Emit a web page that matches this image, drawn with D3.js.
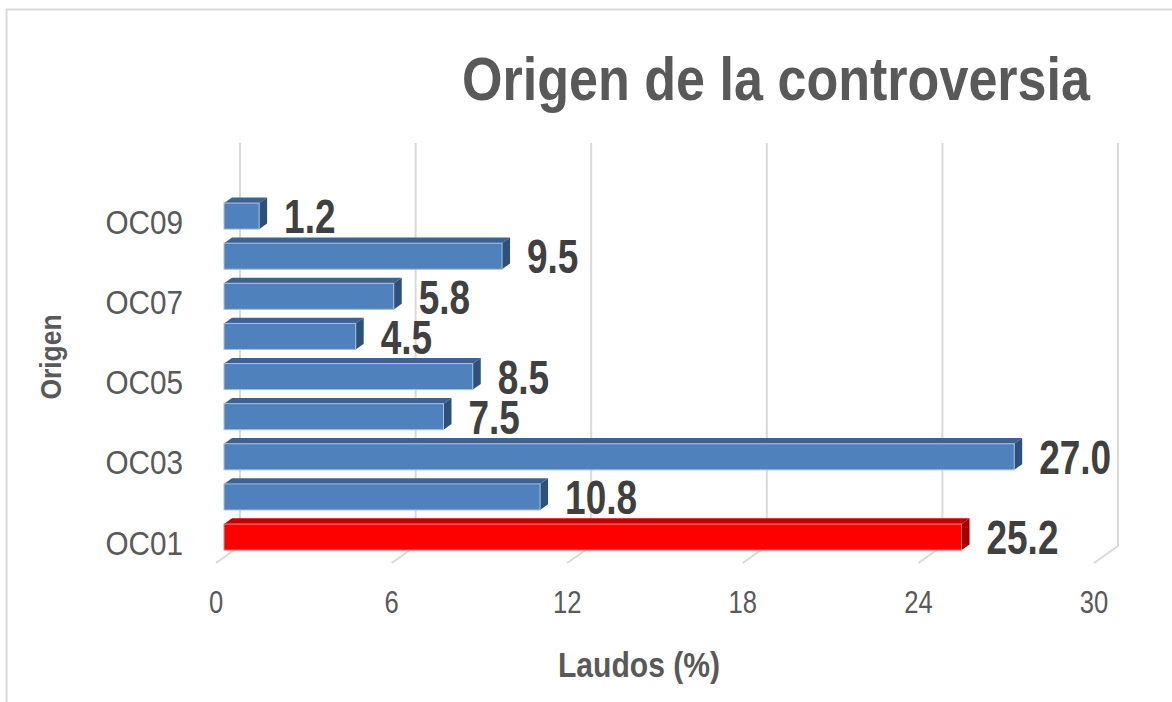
<!DOCTYPE html>
<html>
<head>
<meta charset="utf-8">
<script src="https://cdn.jsdelivr.net/npm/d3@7/dist/d3.min.js"></script>
<style>
  body { margin: 0; background: #fff; }
  svg { display: block; }
  text { font-family: "Liberation Sans Narrow", "Arial Narrow", "Liberation Sans", Arial, sans-serif; }
</style>
</head>
<body>
<div id="chart"></div>
<script>
// categories, bottom to top as in the picture
var categories = ["OC01", "OC02", "OC03", "OC04", "OC05", "OC06", "OC07", "OC08", "OC09"];
var values = [25.2, 10.8, 27.0, 7.5, 8.5, 4.5, 5.8, 9.5, 1.2];
var highlighted = ["OC01"];
var shownLabels = ["OC01", "OC03", "OC05", "OC07", "OC09"];
var xTicks = [0, 6, 12, 18, 24, 30];

var width = 1172, height = 702;

var svg = d3.select("#chart").append("svg")
    .attr("width", width)
    .attr("height", height);

// the original uses a narrow font, squeeze text horizontally
function narrow(x, y, sx) {
    return "translate(" + x + "," + y + ") scale(" + sx + ",1)";
}

// outer chart border (only top & left visible in the picture)
svg.append("rect")
    .attr("x", 6.5).attr("y", 9.5)
    .attr("width", width + 20).attr("height", height + 20)
    .attr("fill", "none")
    .attr("stroke", "#d9d9d9")
    .attr("stroke-width", 2);

// front plane scales
var x = d3.scaleLinear().domain([0, 30]).range([216, 1094]);
var y = d3.scaleBand()
    .domain(categories.slice().reverse())
    .range([201.5, 563])
    .paddingInner(0.35)
    .paddingOuter(0.18);

// depth vector for the 3D look (front -> back wall)
var depthX = 24, depthY = -17;
var floorY = 563, wallTop = 143;

// grid lines: back wall vertical + slanted floor piece
var grid = svg.append("g").attr("class", "grid");
grid.selectAll("path")
    .data(xTicks)
    .enter().append("path")
    .attr("d", function (d) {
        var fx = x(d), bx = x(d) + depthX, by = floorY + depthY;
        return "M" + bx + "," + wallTop + "L" + bx + "," + by + "L" + fx + "," + floorY;
    })
    .attr("fill", "none")
    .attr("stroke", "#d9d9d9")
    .attr("stroke-width", 2);

// bars
var data = categories.map(function (c, i) { return { cat: c, value: values[i] }; });

function colors(d) {
    if (highlighted.indexOf(d.cat) >= 0) {
        return { front: "#ff0000", top: "#c00000", side: "#a50000" };
    }
    return { front: "#4f81bd", top: "#3c6291", side: "#2f5079" };
}

var d1x = depthX / 3, d1y = depthY / 3; // bar starts 1/3 into depth
var bw = depthX / 3, bh = depthY / 3;   // bar depth

var bars = svg.append("g").attr("class", "bars")
    .selectAll("g")
    .data(data)
    .enter().append("g")
    .attr("transform", function (d) {
        return "translate(" + d1x + "," + (y(d.cat) + d1y) + ")";
    });

// top face
bars.append("path")
    .attr("d", function (d) {
        var x0 = x(0), x1 = x(d.value);
        return "M" + x0 + ",0L" + (x0 + bw) + "," + bh + "L" + (x1 + bw) + "," + bh + "L" + x1 + ",0Z";
    })
    .attr("fill", function (d) { return colors(d).top; });

// side face
bars.append("path")
    .attr("d", function (d) {
        var x1 = x(d.value), h = y.bandwidth();
        return "M" + x1 + ",0L" + (x1 + bw) + "," + bh + "L" + (x1 + bw) + "," + (h + bh) + "L" + x1 + "," + h + "Z";
    })
    .attr("fill", function (d) { return colors(d).side; });

// front face
bars.append("rect")
    .attr("x", x(0))
    .attr("y", 0)
    .attr("width", function (d) { return x(d.value) - x(0); })
    .attr("height", y.bandwidth())
    .attr("fill", function (d) { return colors(d).front; })
    .attr("stroke", function (d) { return highlighted.indexOf(d.cat) >= 0 ? "#ff8080" : "#a9c0de"; })
    .attr("stroke-width", 1);

// value labels
svg.append("g").attr("class", "values")
    .selectAll("text")
    .data(data)
    .enter().append("text")
    .attr("transform", function (d) {
        return narrow(x(d.value) + d1x + bw + 17, y(d.cat) + d1y + y.bandwidth() / 2, 0.77);
    })
    .attr("dy", "0.36em")
    .attr("font-size", 48)
    .attr("font-weight", "bold")
    .attr("fill", "#404040")
    .text(function (d) { return d.value.toFixed(1); });

// category axis labels
svg.append("g").attr("class", "cat-labels")
    .selectAll("text")
    .data(shownLabels)
    .enter().append("text")
    .attr("transform", function (d) { return narrow(183, y(d) + y.bandwidth() / 2, 0.9); })
    .attr("dy", "0.36em")
    .attr("text-anchor", "end")
    .attr("font-size", 33)
    .attr("fill", "#595959")
    .text(function (d) { return d; });

// x tick labels
svg.append("g").attr("class", "x-labels")
    .selectAll("text")
    .data(xTicks)
    .enter().append("text")
    .attr("transform", function (d) { return narrow(x(d), 601, 0.8); })
    .attr("dy", "0.36em")
    .attr("text-anchor", "middle")
    .attr("font-size", 32)
    .attr("fill", "#595959")
    .text(function (d) { return d; });

// title
svg.append("text")
    .attr("transform", narrow(776, 100, 0.84))
    .attr("text-anchor", "middle")
    .attr("font-size", 62)
    .attr("font-weight", "bold")
    .attr("fill", "#595959")
    .text("Origen de la controversia");

// axis titles
svg.append("text")
    .attr("transform", narrow(639, 677, 0.86))
    .attr("text-anchor", "middle")
    .attr("font-size", 35)
    .attr("font-weight", "bold")
    .attr("fill", "#595959")
    .text("Laudos (%)");

svg.append("text")
    .attr("transform", "translate(61,357) rotate(-90) scale(0.88,1)")
    .attr("text-anchor", "middle")
    .attr("font-size", 30)
    .attr("font-weight", "bold")
    .attr("fill", "#595959")
    .text("Origen");
</script>
</body>
</html>
